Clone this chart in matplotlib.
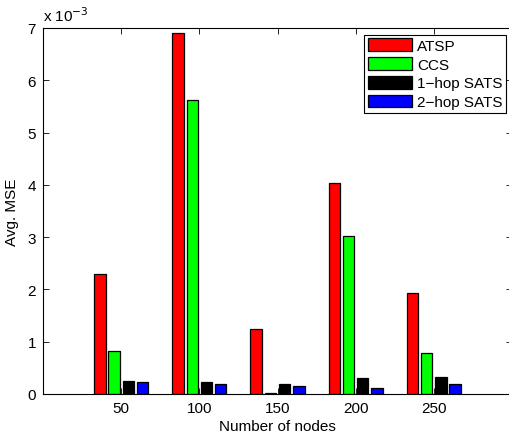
import numpy as np
import matplotlib
matplotlib.use('Agg')
import matplotlib.pyplot as plt

plt.rcParams['font.family'] = ['Liberation Sans', 'DejaVu Sans']

# average MSE per method, in units of 1e-3
nodes = [50, 100, 150, 200, 250]
atsp = [2.29, 6.91, 1.24, 4.04, 1.93]
ccs = [0.83, 5.63, 0.01, 3.02, 0.79]
sats_1hop = [0.24, 0.235, 0.20, 0.31, 0.33]
sats_2hop = [0.22, 0.185, 0.15, 0.115, 0.20]

series = [
    ("ATSP", atsp, "#ff0000"),
    ("CCS", ccs, "#00ff00"),
    ("1\u2212hop SATS", sats_1hop, "#000000"),
    ("2\u2212hop SATS", sats_2hop, "#0000ff"),
]

fig = plt.figure(figsize=(5.10, 4.35), dpi=100)
ax = fig.add_axes([43 / 510, 40 / 435, 469 / 510, 366 / 435])

x = np.array(nodes, dtype=float)
step = 9.1
width = 7.3
for i, (name, vals, col) in enumerate(series):
    ax.bar(x + (i - 1.5) * step, vals, width=width, color=col,
           edgecolor='black', linewidth=0.9, label=name)

ax.set_xlim(0, 300)
ax.set_ylim(0, 7)
ax.set_xticks(nodes)
ax.set_yticks(range(0, 8))
ax.tick_params(direction='in', top=True, right=True, length=4,
               labelsize=11, width=0.6, pad=5)
for s in ax.spines.values():
    s.set_linewidth(0.8)

ax.set_xlabel("Number of nodes", fontsize=11, labelpad=3)
ax.set_ylabel("Avg. MSE", fontsize=11, labelpad=6)
ax.text(0.0, 1.01, r"x 10$^{-3}$", transform=ax.transAxes,
        fontsize=11, ha='left', va='bottom')

leg = ax.legend(loc='upper right', bbox_to_anchor=(0.988, 0.982),
                fontsize=11, fancybox=False, framealpha=1,
                edgecolor='black', handlelength=2.9, handleheight=0.9,
                handletextpad=0.3, labelspacing=0.27, borderpad=0.25,
                borderaxespad=0)
leg.get_frame().set_linewidth(0.8)

fig.savefig("out.png", dpi=100)
